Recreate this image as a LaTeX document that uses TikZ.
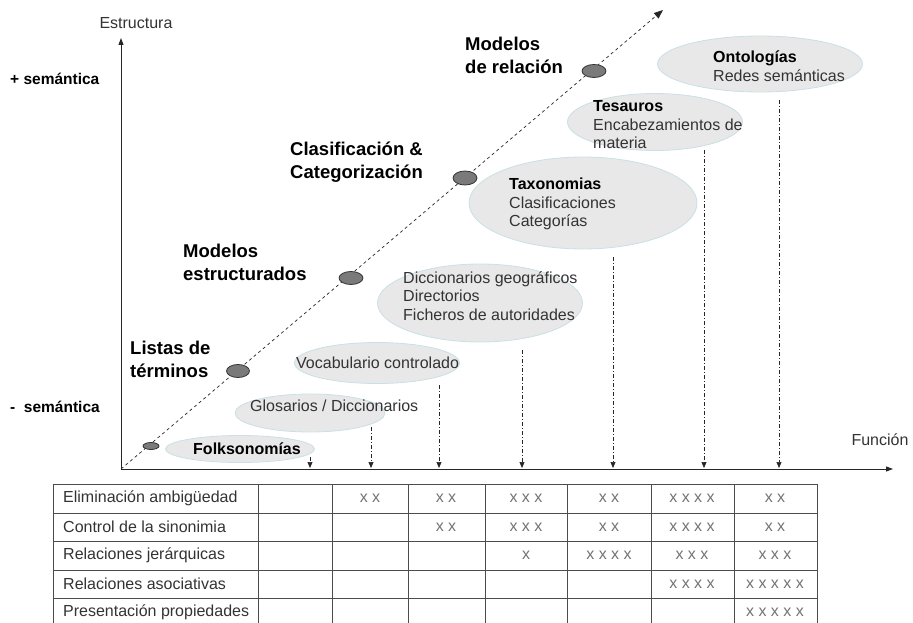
\documentclass[tikz,border=0pt]{standalone}
\usepackage{fontspec}
\setmainfont{Liberation Sans}
\usetikzlibrary{shapes,arrows.meta}
\definecolor{areafill}{HTML}{E8E8E8}
\definecolor{arealine}{HTML}{C9E0E4}
\definecolor{dotfill}{HTML}{7A7A7A}

\begin{document}
\begin{tikzpicture}[x=1pt,y=-1pt,
      every node/.style={inner sep=0pt,font=\fontsize{16}{18.5}\selectfont,text=black!80},
      topicarea/.style={ellipse,fill=areafill,draw=arealine,line width=0.8pt},
      stage/.style={ellipse,fill=dotfill,draw=black!80,line width=0.8pt},
      stagelabel/.style={anchor=west,align=left,text=black,font=\fontsize{18.5}{23}\selectfont\bfseries},
      topictext/.style={anchor=west,align=left},
      axisline/.style={draw=black!85,line width=0.9pt,-{Triangle[length=7pt,width=5pt]}},
      growth/.style={draw=black!85,line width=0.7pt,dash pattern=on 3pt off 3pt,-{Triangle[length=9pt,width=7pt]}},
      feed/.style={draw=black!85,line width=0.7pt,dash pattern=on 4pt off 2pt on 1pt off 2pt,-{Triangle[length=6pt,width=5pt]}},
      tableline/.style={draw=black!70,line width=0.8pt},
      crosses/.style={text=black!55}]
    \useasboundingbox (0,0) rectangle (913,623);

    \node[topicarea,minimum width=149,minimum height=27] (folk) at (240,449) {};
    \node[topicarea,minimum width=150,minimum height=38] (glos) at (310,413) {};
    \node[topicarea,minimum width=165,minimum height=41] (voc) at (377,363) {};
    \node[topicarea,minimum width=205,minimum height=78] (dicc) at (480,303) {};
    \node[topicarea,minimum width=228,minimum height=92] (tax) at (583,203) {};
    \node[topicarea,minimum width=175,minimum height=57] (tes) at (655,122) {};
    \node[topicarea,minimum width=205,minimum height=56] (onto) at (760,64) {};

    \node[topictext,font=\fontsize{16}{18.5}\selectfont\bfseries,text=black] (folkt) at (193,449) {Folksonomías};
    \node[topictext] (glost) at (250,406) {Glosarios / Diccionarios};
    \node[topictext] (voct) at (296,363) {Vocabulario controlado};
    \node[topictext] (dicct) at (403,296) {Diccionarios geográficos\\Directorios\\Ficheros de autoridades};
    \node[topictext] (taxt) at (509,204) {\textbf{\color{black}Taxonomias}\\Clasificaciones\\Categorías};
    \node[topictext] (test) at (593,125) {\textbf{\color{black}Tesauros}\\Encabezamientos de\\materia};
    \node[topictext] (ontot) at (713,66) {\textbf{\color{black}Ontologías}\\Redes semánticas};

    \coordinate (origin) at (121,469);
    \coordinate (ytop) at (121,38);
    \coordinate (xend) at (893,469);
    \coordinate (dtop) at (663,10);
    \draw[axisline] (origin) -- (ytop);
    \draw[axisline] (origin) -- (xend);
    \draw[growth] (origin) -- (dtop);

    \foreach \x/\y [count=\i] in {310/457,371/427,439/385,522/350,613/257,704/150,779/100} {
      \coordinate (fs\i) at (\x,\y);
      \coordinate (fe\i) at (\x,468);
      \draw[feed] (fs\i) -- (fe\i);
    }

    \node[stage,minimum width=16,minimum height=7] (st0) at (151,446) {};
    \node[stage,minimum width=23,minimum height=13] (st1) at (238,371) {};
    \node[stage,minimum width=24,minimum height=13] (st2) at (351,278) {};
    \node[stage,minimum width=24,minimum height=14] (st3) at (465,178) {};
    \node[stage,minimum width=24,minimum height=13] (st4) at (594,71) {};

    \node[stagelabel] (listas) at (130,359) {Listas de\\términos};
    \node[stagelabel] (modest) at (183,262) {Modelos\\estructurados};
    \node[stagelabel] (clasif) at (290,162) {Clasificación \&\\Categorización};
    \node[stagelabel] (modrel) at (465,55) {Modelos\\de relación};

    \node[anchor=west,text=black,font=\fontsize{15.5}{18.5}\selectfont\bfseries] (mas) at (10,79) {+ semántica};
    \node[anchor=west,text=black,font=\fontsize{15.5}{18.5}\selectfont\bfseries] (menos) at (10,407) {-\ \ semántica};
    \node (estr) at (136,23) {Estructura};
    \node (func) at (880,440) {Función};

    \foreach \y in {484,513,541.5,570,598.5}
      \draw[tableline] (53,\y) -- (817,\y);
    \foreach \x in {53,258,332,408,485,567,651,734,817}
      \draw[tableline] (\x,484) -- (\x,623);

    \foreach \lab [count=\r] in {Eliminación ambigüedad,Control de la sinonimia,Relaciones jerárquicas,Relaciones asociativas,Presentación propiedades}
      \node[anchor=west] (row\r) at (63,{484+28.6*(\r-0.5)}) {\lab};

    \foreach \r/\x/\m in {1/370/x x,1/446/x x,1/526/x x x,1/609/x x,1/692/x x x x,1/775/x x,
                          2/446/x x,2/526/x x x,2/609/x x,2/692/x x x x,2/775/x x,
                          3/526/x,3/609/x x x x,3/692/x x x,3/775/x x x,
                          4/692/x x x x,4/775/x x x x x,
                          5/775/x x x x x}
      \node[crosses] (c\r-\x) at (\x,{484+28.6*(\r-0.5)}) {\m};
\end{tikzpicture}
\end{document}
